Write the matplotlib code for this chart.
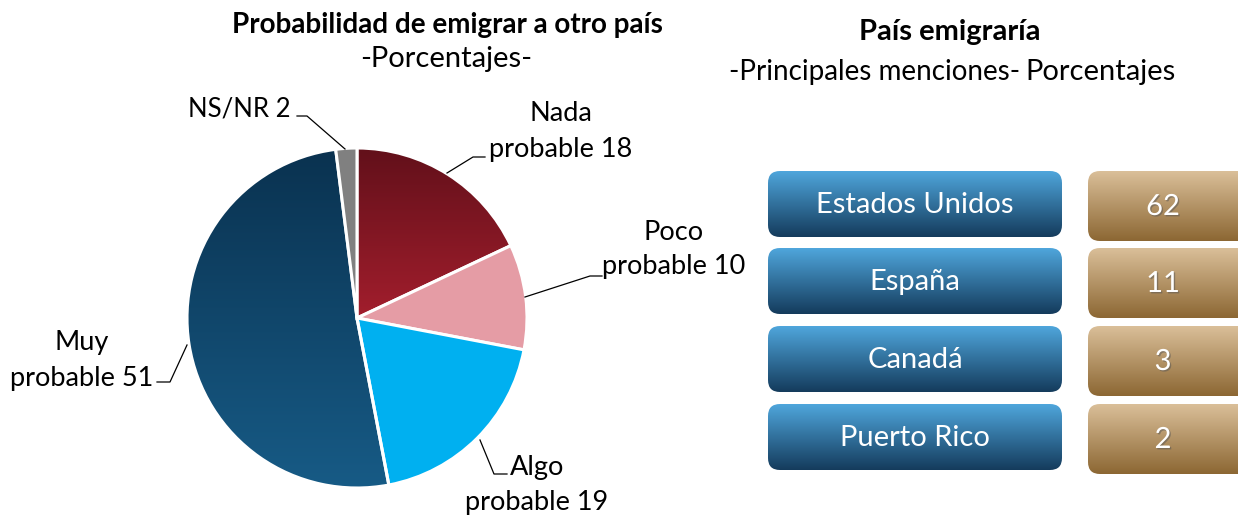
import matplotlib
matplotlib.use('Agg')
import matplotlib.pyplot as plt
import matplotlib.patheffects as pe
from matplotlib.patches import FancyBboxPatch
from matplotlib.colors import LinearSegmentedColormap
import numpy as np

plt.rcParams['font.family'] = ['Lato', 'DejaVu Sans']

# left chart: probability of emigrating
pie_labels = ['Nada\nprobable 18', 'Poco\nprobable 10', 'Algo\nprobable 19', 'Muy\nprobable 51', 'NS/NR 2']
pie_values = [18, 10, 19, 51, 2]
pie_colors = ['#8a1824', '#e59ca5', '#00b0f0', '#114a6e', '#808080']

# right chart: country
countries = ['Estados Unidos', 'España', 'Canadá', 'Puerto Rico']
country_values = [62, 11, 3, 2]

W, H = 1238, 516
fig = plt.figure(figsize=(W / 100, H / 100), dpi=100)
ax = fig.add_axes([0, 0, 1, 1])


def Y(y):
    return H - y


def grad_fill(patch, top, bottom, y0, y1, x0, x1):
    cmap = LinearSegmentedColormap.from_list('g', [bottom, top])
    img = np.linspace(0, 1, 256).reshape(-1, 1)
    im = ax.imshow(img, cmap=cmap, extent=(x0, x1, Y(y1), Y(y0)), origin='lower',
                   aspect='auto', zorder=patch.get_zorder() - 0.1)
    im.set_clip_path(patch)


# pie
cx, cy, r = 357, 318, 170
wedges, _ = ax.pie(pie_values, colors=pie_colors, startangle=90, counterclock=False,
                   center=(cx, Y(cy)), radius=r,
                   wedgeprops=dict(edgecolor='white', linewidth=2.2))
for w in wedges:
    w.set_zorder(3)
grad_fill(wedges[0], '#62101a', '#a31e2d', 148, 320, cx - 5, cx + r + 5)
wedges[0].set_facecolor('none')
grad_fill(wedges[3], '#0a3250', '#175b86', 150, 490, cx - r - 5, cx + 40)
wedges[3].set_facecolor('none')

ax.text(447, Y(33), 'Probabilidad de emigrar a otro país', fontsize=20, fontweight='bold',
        ha='center', va='baseline')
ax.text(446, Y(67), '-Porcentajes-', fontsize=21, ha='center', va='baseline')

lab_size = 19.5
# (x, baseline of first line, baseline of second line) for each two-line label
label_pos = [(561, 121, 157), (674, 240, 274), (537, 475, 510), (82, 350, 386)]
for text, (lx, b1, b2) in zip(pie_labels[:4], label_pos):
    first, second = text.split('\n')
    ax.text(lx, Y(b1), first, fontsize=lab_size, ha='center', va='baseline')
    ax.text(lx, Y(b2), second, fontsize=lab_size, ha='center', va='baseline')
ax.text(290, Y(116), pie_labels[4], fontsize=18.5, ha='right', va='baseline')

leaders = [
    [(485, 157), (473, 157), (447, 173)],
    [(602, 276), (590, 276), (525, 297)],
    [(507, 474), (494, 474), (480, 440)],
    [(157, 382), (170, 382), (187, 345)],
    [(297, 116), (307, 116), (345, 149)],
]
for pts in leaders:
    xs = [p[0] for p in pts]
    ys = [Y(p[1]) for p in pts]
    ax.plot(xs, ys, color='black', linewidth=0.9, zorder=4)

# right side
ax.text(950, Y(40), 'País emigraría', fontsize=21, fontweight='bold', ha='center', va='baseline')
ax.text(1020, Y(80), '-Principales menciones-', fontsize=20, ha='right', va='baseline')
ax.text(1025, Y(80), 'Porcentajes', fontsize=21, ha='left', va='baseline')

row_tops = [171, 248, 326, 404]
for i, (name, val) in enumerate(zip(countries, country_values)):
    t = row_tops[i]
    b = FancyBboxPatch((768, Y(t + 66)), 294, 66, boxstyle='round,pad=0,rounding_size=12',
                       facecolor='none', edgecolor='none', zorder=3)
    ax.add_patch(b)
    grad_fill(b, '#4fa6dc', '#143b5c', t, t + 66, 768, 1062)
    ax.text(915, Y(t + 42), name, fontsize=21, color='white', ha='center', va='baseline', zorder=5)

    v = FancyBboxPatch((1088, Y(t + 70)), 170, 70, boxstyle='round,pad=0,rounding_size=12',
                       facecolor='none', edgecolor='none', zorder=3)
    ax.add_patch(v)
    grad_fill(v, '#dabf99', '#8c6733', t, t + 70, 1088, 1258)
    ax.text(1163, Y(t + 44), str(val), fontsize=21, color='white', ha='center', va='baseline', zorder=5,
            path_effects=[pe.withSimplePatchShadow(offset=(1, -1), shadow_rgbFace='#555555', alpha=0.5)])

ax.set_xlim(0, W)
ax.set_ylim(0, H)
ax.set_aspect('auto')
ax.axis('off')
fig.savefig('out.png', dpi=100)
